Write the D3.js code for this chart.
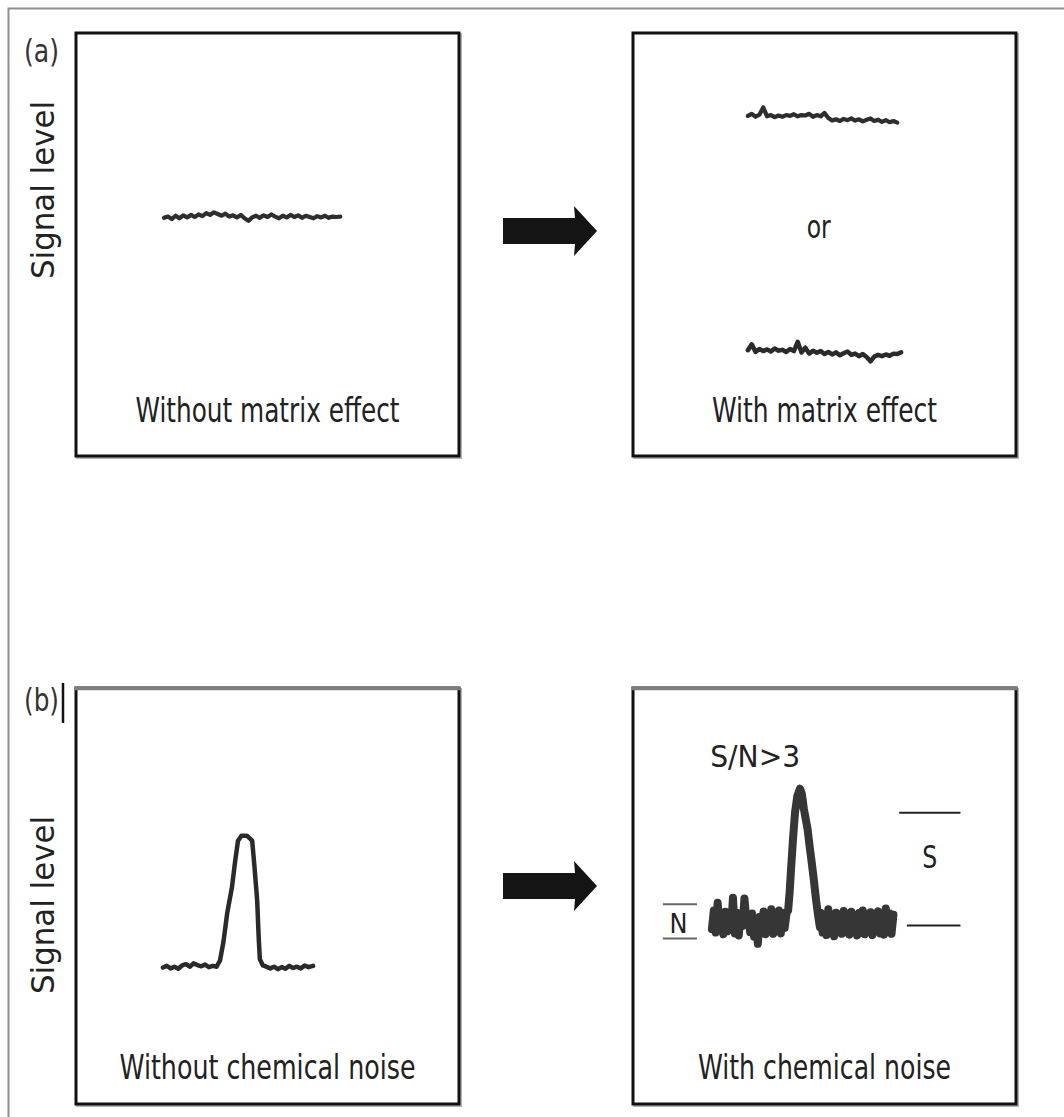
<!DOCTYPE html>
<html>
<head>
<meta charset="utf-8">
<script src="https://cdn.jsdelivr.net/npm/d3@7"></script>
<style>
body{margin:0;background:#fff;}
</style>
</head>
<body>
<div id="fig"></div>
<script>
// panel tags + captions
var panelTags=['(a)','(b)'];
var captionsA=['Without matrix effect','With matrix effect'];
var captionsB=['Without chemical noise','With chemical noise'];
var yLabel='Signal level';
var orLabel='or';
var snLabel='S/N>3', sLabel='S', nLabel='N';

// traces: time and level both 0-100 across each box
// (a) left - flat baseline, time 23..69 step 1
var aLeftStart=23, aLeftLevels=[56.3,56.6,56.0,56.8,56.2,56.9,56.4,57.0,56.5,57.1,56.7,57.4,57.0,57.6,57.2,56.8,
  57.3,56.6,56.9,56.4,57.0,56.2,55.6,56.4,56.8,56.3,56.9,56.5,57.1,56.6,56.2,56.8,56.4,57.0,56.5,56.9,56.3,
  56.8,56.5,56.2,56.7,56.4,56.8,56.3,56.6,56.5,56.6];
// (a) right - enhanced baseline, time 30..69
var aUpStart=30, aUpLevels=[80.4,80.9,80.2,80.7,82.4,80.3,80.6,80.1,80.5,80.2,80.6,80.4,80.8,80.3,80.6,80.5,
  80.9,80.2,80.6,80.3,81.1,79.9,79.3,79.6,79.2,79.7,79.4,79.8,79.3,79.6,79.1,79.5,79.8,79.2,79.5,79.0,79.4,78.9,79.2,78.8];
// (a) right - suppressed baseline, time 30..70
var aLowStart=30, aLowLevels=[25.0,26.4,24.6,25.3,24.8,25.2,24.7,25.4,24.9,25.1,24.6,25.3,24.8,27.0,24.5,25.6,
  24.2,24.9,24.4,24.8,24.1,24.6,24.0,24.5,23.8,24.3,24.7,23.9,24.2,23.6,24.1,23.4,22.4,23.5,23.9,23.6,24.0,23.7,24.2,24.1,24.5];
// (b) left - clean peak [time, level]
var bLeftPeak=[[22.7,32.8],[23.7,33.2],[24.7,32.6],[25.7,33.0],[26.7,32.5],[27.7,33.3],[28.7,33.6],[29.7,33.0],
  [30.7,33.8],[31.7,33.4],[32.7,33.1],[33.7,33.5],[34.7,32.9],[35.7,33.2],[36.7,33.0],[37.6,34.5],[38.5,39],
  [39.5,46],[40.7,52],[41.5,58],[42.3,63.3],[43.2,64.5],[44.6,64.5],[46.0,63.3],[46.6,57],[47.3,49],[47.7,40],
  [48.0,34.8],[48.8,33.3],[49.7,33.0],[50.7,32.6],[51.7,33.0],[52.7,32.4],[53.7,32.9],[54.7,32.5],[55.7,33.2],
  [56.7,32.7],[57.7,33.0],[58.7,32.6],[59.7,33.3],[60.7,32.9],[61.9,33.2]];
// (b) right - noisy baseline before peak, time 20.6 step .5
var bNoiseStart=20.6, bNoiseBefore=[42.0,46.5,41.2,48.4,42.5,45.8,40.8,46.2,41.5,45.0,42.2,49.6,41.0,46.0,40.5,
  45.5,42.8,49.4,44.0,45.2,41.3,45.8,40.2,44.6,38.5,45.0,41.2,46.3,40.8,45.6,41.5,46.8,40.9,45.3,41.8,46.5,
  41.0,45.9,42.3,46.0];
var bNoisePeak=[[40.5,46.5],[40.9,51],[41.3,57],[41.8,64],[42.3,70],[42.9,74],[43.6,75.8],[44.1,74.5],
  [44.6,71],[45.1,68.5],[45.6,66],[46.1,62],[46.6,58.5],[47.2,54],[47.8,49],[48.3,45.5],[48.8,42.5]];
var bNoiseAfterStart=49, bNoiseAfter=[46.0,41.2,45.5,40.6,46.8,41.5,45.2,40.3,46.0,41.8,45.6,40.9,46.4,41.3,
  45.0,40.7,46.2,41.6,44.8,40.5,45.9,41.1,46.5,40.8,45.3,41.4,46.1,40.6,45.7,41.9,46.3,41.0,45.4,40.7,47.0,
  41.3,45.8,40.9,45.5];
// S and N marker levels
var sTop=70, sBase=42.9, nTop=48, nBase=39.8;

var W=1064,H=1117;
var svg=d3.select('#fig').append('svg')
  .attr('width',W).attr('height',H)
  .style('display','block');
var font='"Liberation Sans Narrow","Arial Narrow","DejaVu Sans Condensed","DejaVu Sans",sans-serif';

// outer frame, only top + left visible
svg.append('path')
  .attr('d',d3.line()([[8.5,H],[8.5,8.5],[W,8.5]]))
  .style('fill','none').style('stroke','#8f8f8f').style('stroke-width',2);

var boxes=[
  {x:76,y:33,w:383,h:423,row:0,col:0},
  {x:633,y:33,w:383,h:423,row:0,col:1},
  {x:76,y:688,w:383,h:416,row:1,col:0},
  {x:633,y:688,w:383,h:416,row:1,col:1}
];
boxes.forEach(function(b){
  b.xs=d3.scaleLinear().domain([0,100]).range([b.x,b.x+b.w]);
  b.ys=d3.scaleLinear().domain([0,100]).range([b.y+b.h,b.y]);
});

function drawBox(b){
  var g=svg.append('g');
  // soft shadow
  g.append('rect').attr('x',b.x+1.5).attr('y',b.y+1.5).attr('width',b.w).attr('height',b.h)
    .style('fill','none').style('stroke','#b5b5b5').style('stroke-width',3);
  g.append('rect').attr('x',b.x).attr('y',b.y).attr('width',b.w).attr('height',b.h)
    .style('fill','#fff').style('stroke','#111').style('stroke-width',3);
  if(b.row==1){ // top edge looks grey in the bottom row
    g.append('line').attr('x1',b.x-1.5).attr('x2',b.x+b.w+1.5).attr('y1',b.y+0.5).attr('y2',b.y+0.5)
      .style('stroke','#7e7e7e').style('stroke-width',3.5);
  }
  var cap=(b.row==0?captionsA:captionsB)[b.col];
  var capW=[[264,225],[296,253]][b.row][b.col];
  g.append('text')
    .attr('x',b.x+b.w/2).attr('y',b.y+b.h-(b.row==0?34:25))
    .attr('text-anchor','middle')
    .attr('textLength',capW).attr('lengthAdjust','spacingAndGlyphs')
    .style('font-family',font).style('font-size','33px').style('fill','#222')
    .text(cap);
}
boxes.forEach(drawBox);

// panel tags and y labels
[0,1].forEach(function(r){
  var b=boxes[r*2];
  svg.append('text')
    .attr('x',24).attr('y',b.y+(r==0?29:23))
    .style('font-family',font).style('font-size','32px').style('fill','#333')
    .attr('textLength',35).attr('lengthAdjust','spacingAndGlyphs')
    .text(panelTags[r]);
  var cy=r==0?190:905;
  svg.append('text')
    .attr('transform','translate(54,'+cy+') rotate(-90)')
    .attr('text-anchor','middle')
    .attr('textLength',178).attr('lengthAdjust','spacingAndGlyphs')
    .style('font-family',font).style('font-size','32px').style('fill','#222')
    .text(yLabel);
});
// little bar after (b)
svg.append('line').attr('x1',63).attr('x2',63).attr('y1',683).attr('y2',723)
  .style('stroke','#111').style('stroke-width',2.5);

// arrows between boxes
function arrow(cy){
  var pts=[[503,cy-13],[575,cy-13],[574,cy-25],[597,cy],[574,cy+25],[575,cy+13],[503,cy+13]];
  svg.append('path').attr('d',d3.line()(pts)+'Z').style('fill','#141414');
}
arrow(231);
arrow(886);

function seq(start,step,levels){
  return levels.map(function(v,i){return [start+i*step,v];});
}
function trace(b,pts,w,col){
  var ln=d3.line().x(function(d){return b.xs(d[0]);}).y(function(d){return b.ys(d[1]);});
  svg.append('path').attr('d',ln(pts))
    .style('fill','none').style('stroke',col).style('stroke-width',w)
    .style('stroke-linejoin','round').style('stroke-linecap','round');
}

trace(boxes[0],seq(aLeftStart,1,aLeftLevels),4.2,'#2e2e2e');
trace(boxes[1],seq(aUpStart,1,aUpLevels),4.2,'#2e2e2e');
trace(boxes[1],seq(aLowStart,1,aLowLevels),4.5,'#2a2a2a');
trace(boxes[2],bLeftPeak,4.5,'#2a2a2a');
var noisy=seq(bNoiseStart,0.5,bNoiseBefore).concat(bNoisePeak).concat(seq(bNoiseAfterStart,0.5,bNoiseAfter));
trace(boxes[3],noisy,8,'#363636');

// "or" between the two traces
var br=boxes[1];
svg.append('text').attr('x',br.xs(48.5)).attr('y',br.ys(51.5))
  .attr('text-anchor','middle')
  .attr('textLength',24).attr('lengthAdjust','spacingAndGlyphs')
  .style('font-family',font).style('font-size','32px').style('fill','#222')
  .text(orLabel);

// S/N annotations
var bn=boxes[3];
svg.append('text').attr('x',bn.xs(31.9)).attr('y',bn.ys(81))
  .attr('text-anchor','middle')
  .attr('textLength',90).attr('lengthAdjust','spacingAndGlyphs')
  .style('font-family',font).style('font-size','31px').style('fill','#222')
  .text(snLabel);
svg.append('line').attr('x1',bn.xs(69.5)).attr('x2',bn.xs(85.5)).attr('y1',bn.ys(sTop)).attr('y2',bn.ys(sTop))
  .style('stroke','#222').style('stroke-width',2);
svg.append('line').attr('x1',bn.xs(71.5)).attr('x2',bn.xs(85.5)).attr('y1',bn.ys(sBase)).attr('y2',bn.ys(sBase))
  .style('stroke','#222').style('stroke-width',2);
svg.append('text').attr('x',bn.xs(77.5)).attr('y',bn.ys(56.7))
  .attr('text-anchor','middle')
  .attr('textLength',15).attr('lengthAdjust','spacingAndGlyphs')
  .style('font-family',font).style('font-size','32px').style('fill','#222')
  .text(sLabel);
svg.append('line').attr('x1',bn.xs(7.8)).attr('x2',bn.xs(16.7)).attr('y1',bn.ys(nTop)).attr('y2',bn.ys(nTop))
  .style('stroke','#666').style('stroke-width',2);
svg.append('line').attr('x1',bn.xs(7.8)).attr('x2',bn.xs(16.7)).attr('y1',bn.ys(nBase)).attr('y2',bn.ys(nBase))
  .style('stroke','#666').style('stroke-width',2);
svg.append('text').attr('x',bn.xs(11.9)).attr('y',bn.ys(41.2))
  .attr('text-anchor','middle')
  .attr('textLength',18).attr('lengthAdjust','spacingAndGlyphs')
  .style('font-family',font).style('font-size','26px').style('fill','#222')
  .text(nLabel);
</script>
</body>
</html>
